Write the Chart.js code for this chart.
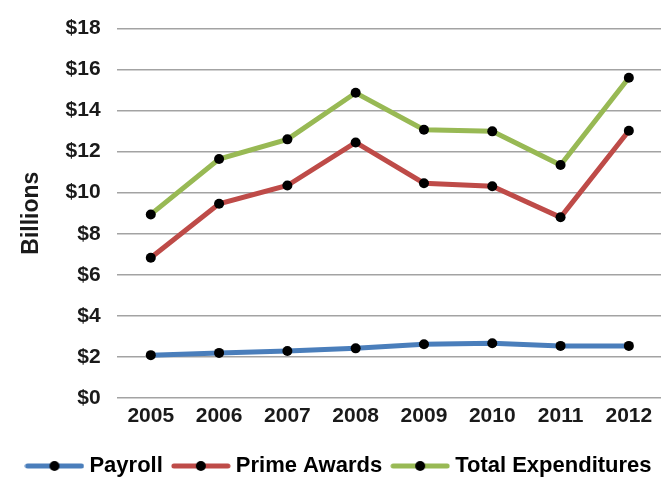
<!DOCTYPE html>
<html>
<head>
<meta charset="utf-8">
<script src="https://cdn.jsdelivr.net/npm/chart.js@4"></script>
<style>
  html, body { margin: 0; padding: 0; background: #fff; overflow: hidden; }
  #wrap { width: 668px; height: 487px; }
</style>
</head>
<body>
<div id="wrap"><canvas id="spendChart"></canvas></div>
<script>
// values (billions of dollars)
const years = ["2005", "2006", "2007", "2008", "2009", "2010", "2011", "2012"];
const payroll = [2.08, 2.19, 2.28, 2.41, 2.61, 2.66, 2.53, 2.53];
const primeAwards = [6.83, 9.46, 10.35, 12.45, 10.46, 10.31, 8.8, 13.02];
const totalExpenditures = [8.94, 11.64, 12.6, 14.87, 13.07, 12.99, 11.35, 15.6];

const blue = "#4a7ebb";
const red = "#be4b48";
const green = "#98b954";
const font = "'Liberation Sans', Arial, sans-serif";

// little line-with-dot swatch for the legend
function swatch(color) {
  const c = document.createElement("canvas");
  c.width = 60;
  c.height = 14;
  const g = c.getContext("2d");
  g.strokeStyle = color;
  g.lineWidth = 5;
  g.lineCap = "round";
  g.beginPath();
  g.moveTo(3, 7);
  g.lineTo(57, 7);
  g.stroke();
  g.fillStyle = "#000";
  g.beginPath();
  g.arc(30, 7, 5, 0, Math.PI * 2);
  g.fill();
  return c;
}

function series(label, data, color) {
  return {
    label: label,
    data: data,
    borderColor: color,
    backgroundColor: "#000",
    borderWidth: 5,
    pointRadius: 5,
    pointBorderWidth: 0,
    pointBackgroundColor: "#000",
    pointStyle: "circle",
    tension: 0,
  };
}

const ctx = document.getElementById("spendChart").getContext("2d");
const swatches = [swatch(blue), swatch(red), swatch(green)];

new Chart(ctx, {
  type: "line",
  data: {
    labels: years,
    datasets: [
      series("Payroll", payroll, blue),
      series("Prime Awards", primeAwards, red),
      series("Total Expenditures", totalExpenditures, green),
    ],
  },
  options: {
    responsive: true,
    maintainAspectRatio: false,
    animation: false,
    layout: { padding: { top: 6, left: 14, right: 0, bottom: 0 } },
    plugins: {
      tooltip: { enabled: false },
      legend: {
        position: "bottom",
        labels: {
          usePointStyle: true,
          pointStyleWidth: 48,
          padding: 14,
          color: "#1a1a1a",
          font: { family: font, size: 22, weight: "bold" },
          generateLabels: (chart) =>
            chart.data.datasets.map((ds, i) => ({
              text: ds.label,
              pointStyle: swatches[i],
              fillStyle: ds.borderColor,
              strokeStyle: ds.borderColor,
              lineWidth: 0,
              datasetIndex: i,
              hidden: false,
            })),
        },
      },
    },
    scales: {
      x: {
        offset: true,
        grid: { display: false, drawTicks: false },
        border: { display: false },
        afterFit: (scale) => {
          scale.height += 6;
        },
        ticks: {
          padding: 6,
          color: "#1a1a1a",
          font: { family: font, size: 21, weight: "bold" },
          maxRotation: 0,
        },
      },
      y: {
        min: 0,
        max: 18,
        grid: { color: "#a3a3a3", lineWidth: 1.5, drawTicks: false },
        border: { display: false },
        ticks: {
          stepSize: 2,
          padding: 16,
          color: "#1a1a1a",
          font: { family: font, size: 21, weight: "bold" },
          callback: (v) => "$" + v,
        },
        title: {
          display: true,
          text: "Billions",
          color: "#1a1a1a",
          font: { family: font, size: 23, weight: "bold" },
          padding: { top: 4, bottom: 4 },
        },
      },
    },
  },
});
</script>
</body>
</html>
